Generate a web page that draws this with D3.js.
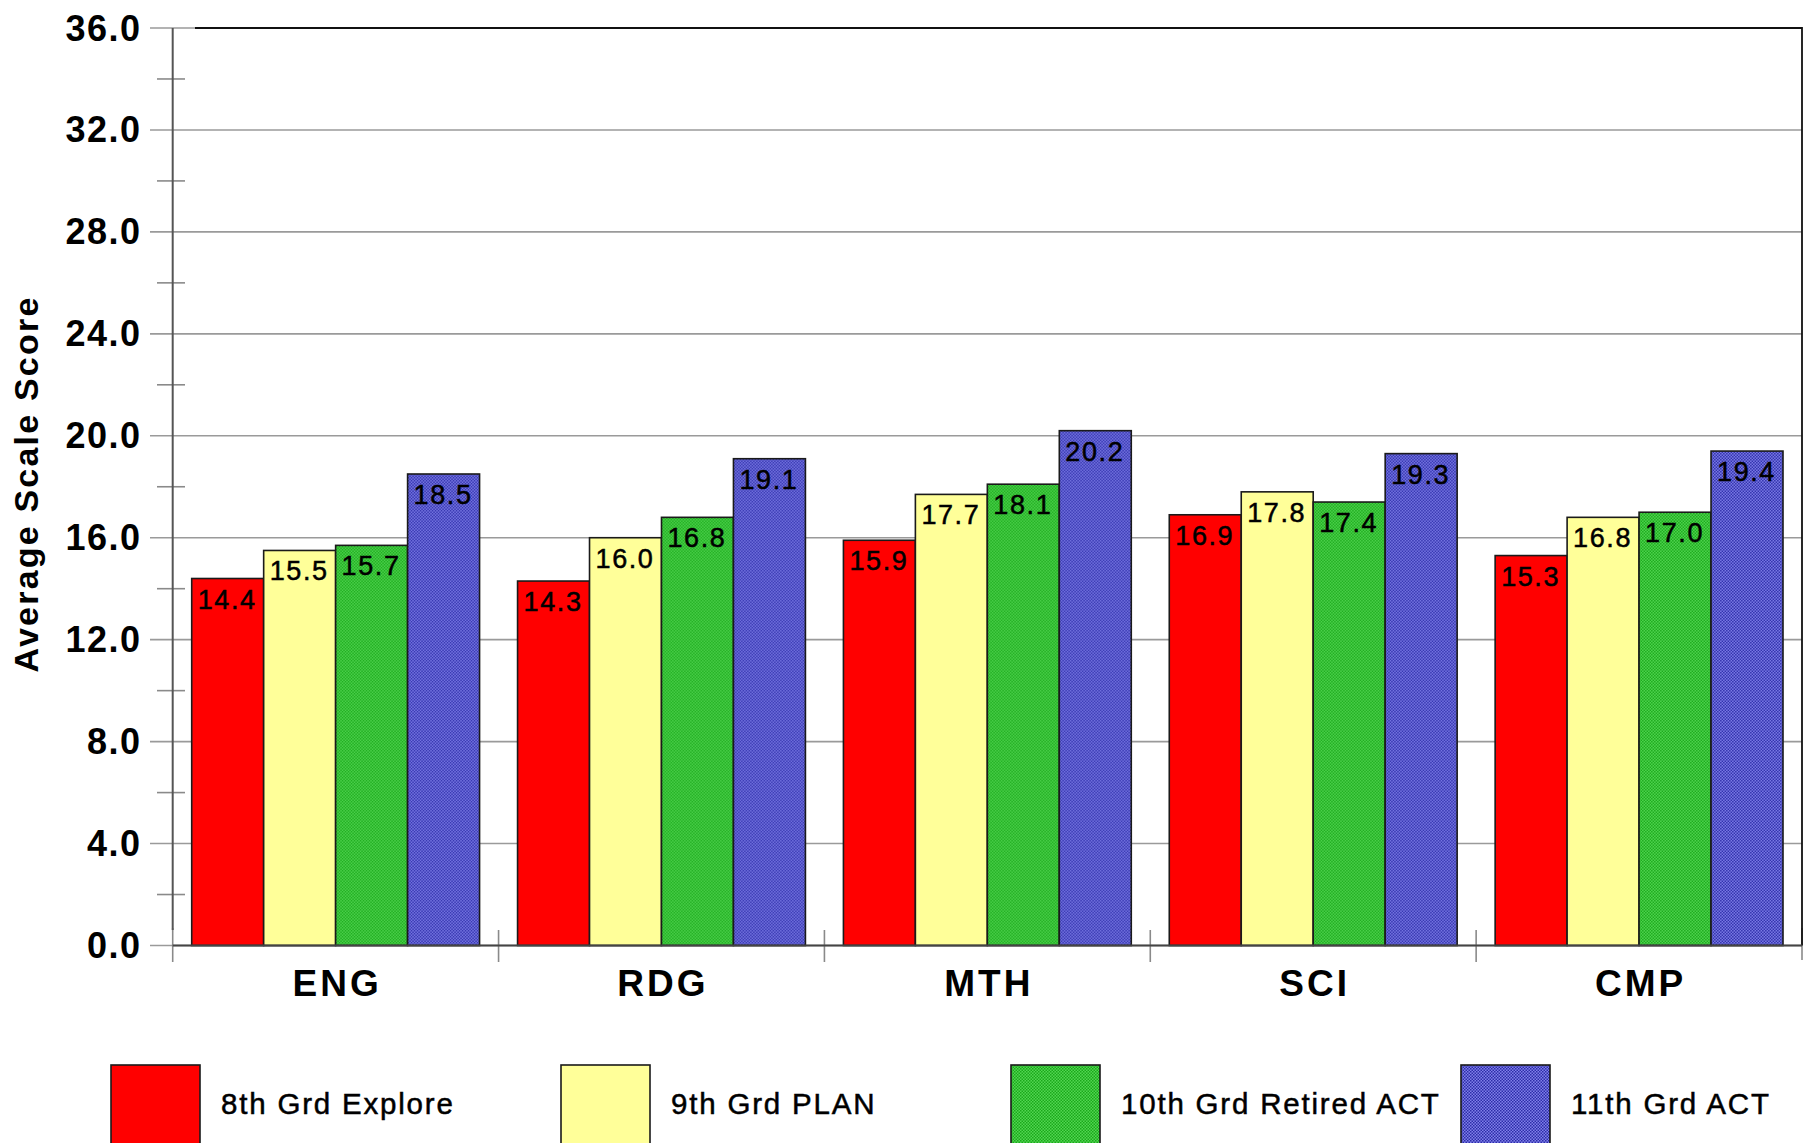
<!DOCTYPE html>
<html>
<head>
<meta charset="utf-8">
<script src="https://cdn.jsdelivr.net/npm/d3@7"></script>
<style>
  html, body { margin: 0; padding: 0; background: #fff; overflow: hidden; }
  svg { display: block; font-family: "Liberation Sans", Arial, sans-serif; }
</style>
</head>
<body>
<svg id="chart" width="1806" height="1143"></svg>
<script>
const categories = ["ENG", "RDG", "MTH", "SCI", "CMP"];
const seriesNames = ["8th Grd Explore", "9th Grd PLAN", "10th Grd Retired ACT", "11th Grd ACT"];
const explore8 = [14.4, 14.3, 15.9, 16.9, 15.3];
const plan9 = [15.5, 16.0, 17.7, 17.8, 16.8];
const retired10 = [15.7, 16.8, 18.1, 17.4, 17.0];
const act11 = [18.5, 19.1, 20.2, 19.3, 19.4];
const yTickValues = [0, 4, 8, 12, 16, 20, 24, 28, 32, 36];
const yMinorTicks = [2, 6, 10, 14, 18, 22, 26, 30, 34];
const yTitle = "Average Scale Score";

const seriesValues = [explore8, plan9, retired10, act11];

(function () {
const svg = d3.select("#chart");
const defs = svg.append("defs");

function checker(id, c1, c2) {
  const p = defs.append("pattern").attr("id", id)
    .attr("patternUnits", "userSpaceOnUse").attr("width", 3).attr("height", 3);
  p.append("rect").attr("width", 3).attr("height", 3).attr("fill", c1);
  p.append("rect").attr("x", 0).attr("y", 0).attr("width", 1.5).attr("height", 1.5).attr("fill", c2);
  p.append("rect").attr("x", 1.5).attr("y", 1.5).attr("width", 1.5).attr("height", 1.5).attr("fill", c2);
}
checker("pGreen", "#52d652", "#1aa81a");
checker("pBlue", "#8080ea", "#2c2ca8");
const fills = ["#ff0000", "#ffff99", "url(#pGreen)", "url(#pBlue)"];

const pLeft = 172.7, pRight = 1802, pTop = 28, pBottom = 945.5;

const y = d3.scaleLinear().domain([0, 36]).range([pBottom, pTop]);
const x0 = d3.scaleBand().domain(categories).range([pLeft, pRight]).paddingInner(0).paddingOuter(0);
const groupPad = 19;
const x1 = d3.scaleBand().domain(d3.range(seriesNames.length))
  .range([0, x0.bandwidth() - 2 * groupPad]).padding(0);

// gridlines
svg.append("g").selectAll("line").data(yTickValues).join("line")
  .attr("x1", 150).attr("x2", pRight)
  .attr("y1", d => y(d)).attr("y2", d => y(d))
  .attr("stroke", "#9a9a9a").attr("stroke-width", 1.6);

// minor ticks
svg.append("g").selectAll("line").data(yMinorTicks).join("line")
  .attr("x1", 157).attr("x2", 185)
  .attr("y1", d => y(d)).attr("y2", d => y(d))
  .attr("stroke", "#8a8a8a").attr("stroke-width", 1.6);

// category separator ticks
svg.append("g").selectAll("line").data(categories.slice(1)).join("line")
  .attr("x1", d => x0(d)).attr("x2", d => x0(d))
  .attr("y1", 930).attr("y2", 962)
  .attr("stroke", "#8a8a8a").attr("stroke-width", 1.6);

svg.append("line").attr("x1", pLeft).attr("x2", pLeft).attr("y1", 928).attr("y2", 962)
  .attr("stroke", "#8a8a8a").attr("stroke-width", 1.6);
svg.append("line").attr("x1", pRight).attr("x2", pRight).attr("y1", 928).attr("y2", 960)
  .attr("stroke", "#8a8a8a").attr("stroke-width", 1.6);

// bars
const groups = svg.append("g").selectAll("g").data(categories).join("g")
  .attr("transform", d => `translate(${x0(d) + groupPad},0)`);

groups.selectAll("rect").data((d, i) => seriesValues.map((s, j) => ({ j, v: s[i] }))).join("rect")
  .attr("x", d => x1(d.j))
  .attr("y", d => y(d.v))
  .attr("width", x1.bandwidth())
  .attr("height", d => pBottom - y(d.v))
  .attr("fill", d => fills[d.j])
  .attr("stroke", "#1a1a1a").attr("stroke-width", 1.6);

groups.selectAll("text").data((d, i) => seriesValues.map((s, j) => ({ j, v: s[i] }))).join("text")
  .attr("x", d => x1(d.j) + x1.bandwidth() / 2 - 0.5)
  .attr("y", d => y(d.v) + 30)
  .attr("text-anchor", "middle")
  .attr("font-size", 27)
  .attr("letter-spacing", 1.6)
  .attr("fill", "#000")
  .attr("stroke", "#000").attr("stroke-width", 0.5)
  .text(d => d3.format(".1f")(d.v));

// frame
svg.append("path")
  .attr("d", `M195,${pTop} H${pRight} V${pBottom}`)
  .attr("fill", "none").attr("stroke", "#111").attr("stroke-width", 1.8);
svg.append("line").attr("x1", pLeft).attr("x2", pLeft).attr("y1", pTop).attr("y2", 930)
  .attr("stroke", "#555").attr("stroke-width", 2);
svg.append("line").attr("x1", pLeft).attr("x2", pRight).attr("y1", pBottom).attr("y2", pBottom)
  .attr("stroke", "#444").attr("stroke-width", 1.8);

// y tick labels
svg.append("g").selectAll("text").data(yTickValues).join("text")
  .attr("x", 141.5).attr("y", d => y(d) + 12.5)
  .attr("text-anchor", "end")
  .attr("font-size", 36).attr("font-weight", "bold")
  .attr("letter-spacing", 1.5)
  .text(d => d3.format(".1f")(d));

// category labels
svg.append("g").selectAll("text").data(categories).join("text")
  .attr("x", d => x0(d) + x0.bandwidth() / 2 + 1.5)
  .attr("y", 996)
  .attr("text-anchor", "middle")
  .attr("font-size", 37).attr("font-weight", "bold")
  .attr("letter-spacing", 3)
  .text(d => d);

// y title
svg.append("text")
  .attr("transform", "translate(38,484) rotate(-90)")
  .attr("text-anchor", "middle")
  .attr("font-size", 34).attr("font-weight", "bold")
  .attr("letter-spacing", 2.2)
  .text(yTitle);

// legend
const legendX = d3.scalePoint().domain(seriesNames).range([111, 1461]);
const leg = svg.append("g").selectAll("g").data(seriesNames).join("g")
  .attr("transform", d => `translate(${legendX(d)},1065)`);
leg.append("rect").attr("width", 89).attr("height", 100)
  .attr("fill", (d, i) => fills[i])
  .attr("stroke", "#1a1a1a").attr("stroke-width", 1.6);
leg.append("text").attr("x", 110).attr("y", 49)
  .attr("font-size", 29.5).attr("letter-spacing", 1.8)
  .attr("stroke", "#000").attr("stroke-width", 0.5)
  .text(d => d);
})();
</script>
</body>
</html>
